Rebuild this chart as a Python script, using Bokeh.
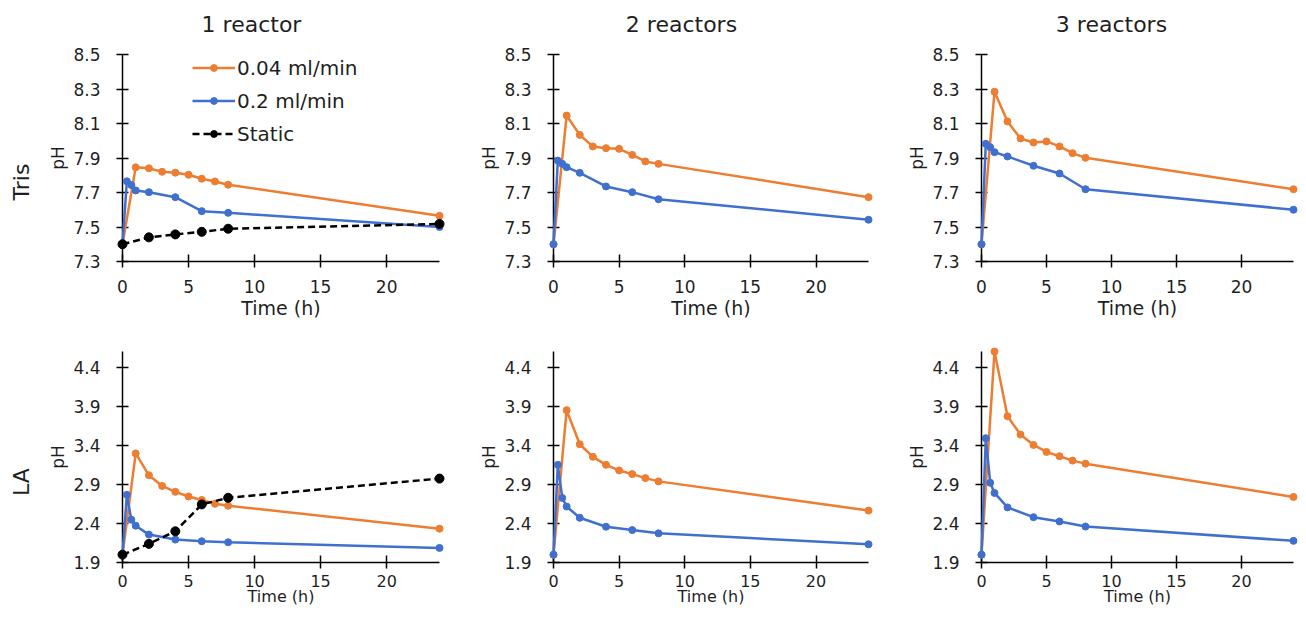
from bokeh.plotting import figure
from bokeh.layouts import row, column
from bokeh.models import Range1d, FixedTicker, PrintfTickFormatter, Legend, LegendItem
from bokeh.embed import file_html
from bokeh.resources import INLINE
from bokeh.core.properties import value
import math

# ------------------------------------------------------------------ data
col_titles = ["1 reactor", "2 reactors", "3 reactors"]
row_labels = ["Tris", "LA"]
series_names = ["0.04 ml/min", "0.2 ml/min", "Static"]

t_orange = [0, 1, 2, 3, 4, 5, 6, 7, 8, 24]
t_blue = [0, 0.33, 0.67, 1, 2, 4, 6, 8, 24]
t_static = [0, 2, 4, 6, 8, 24]

tris1_orange = [7.40, 7.846, 7.840, 7.820, 7.815, 7.803, 7.780, 7.764, 7.745, 7.565]
tris1_blue = [7.40, 7.765, 7.743, 7.712, 7.702, 7.673, 7.592, 7.582, 7.500]
tris1_static = [7.40, 7.440, 7.457, 7.472, 7.490, 7.518]

tris2_orange = [7.40, 8.146, 8.034, 7.967, 7.957, 7.953, 7.918, 7.880, 7.866, 7.673]
tris2_blue = [7.40, 7.885, 7.866, 7.847, 7.814, 7.735, 7.702, 7.661, 7.542]

tris3_orange = [7.40, 8.284, 8.112, 8.013, 7.990, 7.996, 7.967, 7.928, 7.901, 7.719]
tris3_blue = [7.40, 7.982, 7.963, 7.934, 7.909, 7.855, 7.810, 7.719, 7.600]

la1_orange = [2.00, 3.296, 3.016, 2.880, 2.804, 2.745, 2.700, 2.651, 2.626, 2.333]
la1_blue = [2.00, 2.766, 2.448, 2.371, 2.257, 2.193, 2.172, 2.159, 2.087]
la1_static = [2.00, 2.138, 2.299, 2.643, 2.728, 2.974]

la2_orange = [2.00, 3.849, 3.413, 3.252, 3.150, 3.078, 3.031, 2.980, 2.938, 2.565]
la2_blue = [2.00, 3.150, 2.726, 2.616, 2.472, 2.358, 2.315, 2.273, 2.133]

la3_orange = [2.00, 4.600, 3.772, 3.537, 3.404, 3.315, 3.260, 3.204, 3.165, 2.739]
la3_blue = [2.00, 3.490, 2.920, 2.790, 2.605, 2.480, 2.425, 2.360, 2.177]

x_ticks = [0, 5, 10, 15, 20]
tris_y_ticks = [7.3, 7.5, 7.7, 7.9, 8.1, 8.3, 8.5]
la_y_ticks = [1.9, 2.4, 2.9, 3.4, 3.9, 4.4]
x_limits = (0, 24)
tris_limits = (7.3, 8.5)
la_limits = (1.9, 4.6)

# ------------------------------------------------------------------ style / layout
FONT = "DejaVu Sans"
ORANGE = "#ED7D31"
BLUE = "#3F70CF"
BLACK = "#000000"
TEXT = "#1f1f1f"

TOTAL_W = 1298
LAB_W = 44
COLS = [(426, 78, 31), (428, 83, 30), (400, 83, 5)]   # width, border left, border right
HEADER_H = 43
ROWS = [(281, 11, 63), (285, 27, 47)]                 # height, border top, border bottom
TITLE_X = [251, 681, 1111]
TITLE_Y = 19
ROWLAB_X = 21
ROWLAB_Y = [79.5, 80.5]                               # from the frame bottom


def blank_fig(w, h, yr):
    f = figure(width=w, height=h, x_range=Range1d(0, w), y_range=Range1d(0, yr),
               x_axis_type=None, y_axis_type=None, output_backend="svg",
               toolbar_location=None, min_border=0, min_border_left=0,
               min_border_right=0, min_border_top=0, min_border_bottom=0,
               outline_line_color=None, background_fill_color="white",
               border_fill_color="white")
    f.title.text = ""
    f.title.visible = False
    return f


def make_panel(ci, ri, series, y_limits, y_ticks, legend=False):
    w, bl, br = COLS[ci]
    h, bt, bb = ROWS[ri]
    p = figure(width=w, height=h, x_range=Range1d(*x_limits), y_range=Range1d(*y_limits),
               output_backend="svg", toolbar_location=None,
               min_border_left=bl, min_border_right=br, min_border_top=bt,
               min_border_bottom=bb, outline_line_color=None,
               background_fill_color="white", border_fill_color="white")
    p.title.text = ""
    p.title.visible = False
    p.xgrid.visible = False
    p.ygrid.visible = False

    xa = p.xaxis[0]
    xa.ticker = FixedTicker(ticks=x_ticks, minor_ticks=[])
    xa.formatter = PrintfTickFormatter(format="%d")
    xa.axis_line_color = BLACK
    xa.axis_line_width = 1.5
    xa.major_tick_line_color = BLACK
    xa.major_tick_line_width = 1.5
    xa.major_tick_in = 7
    xa.major_tick_out = 6
    xa.minor_tick_in = 0
    xa.minor_tick_out = 0
    xa.major_label_text_font = FONT
    xa.major_label_text_color = TEXT
    xa.axis_label = "Time (h)"
    xa.axis_label_text_font = FONT
    xa.axis_label_text_font_style = "normal"
    xa.axis_label_text_color = TEXT
    if ri == 0:
        xa.major_label_text_font_size = "17px"
        xa.major_label_standoff = 12
        xa.axis_label_standoff = 1
        xa.axis_label_text_font_size = "19px"
    else:
        xa.major_label_text_font_size = "16px"
        xa.major_label_standoff = 6
        xa.axis_label_standoff = -3
        xa.axis_label_text_font_size = "16px"

    ya = p.yaxis[0]
    ya.ticker = FixedTicker(ticks=y_ticks, minor_ticks=[])
    ya.formatter = PrintfTickFormatter(format="%.1f")
    ya.axis_line_color = BLACK
    ya.axis_line_width = 1.5
    ya.major_tick_line_color = BLACK
    ya.major_tick_line_width = 1.5
    ya.major_tick_in = 6
    ya.major_tick_out = 6
    ya.minor_tick_in = 0
    ya.minor_tick_out = 0
    ya.major_label_standoff = 16
    ya.major_label_text_font = FONT
    ya.major_label_text_font_size = "17px"
    ya.major_label_text_color = TEXT
    ya.axis_label = "pH"
    ya.axis_label_text_font = FONT
    ya.axis_label_text_font_size = "17px"
    ya.axis_label_text_font_style = "normal"
    ya.axis_label_text_color = TEXT
    ya.axis_label_standoff = 2

    items = []
    for name, t, y, color, dash, size in series:
        lr = p.line(t, y, line_color=color, line_width=2.5, line_dash=dash, level="overlay")
        sr = p.scatter(t, y, size=size, fill_color=color, line_color=color, level="overlay")
        items.append(LegendItem(label=name, renderers=[lr, sr]))

    if legend:
        lg = Legend(items=items, location=(70, 115.5), orientation="vertical",
                    glyph_width=43, glyph_height=17, label_height=17, label_standoff=2,
                    spacing=9, padding=0, margin=0, border_line_color=None,
                    background_fill_alpha=0, label_text_font=FONT,
                    label_text_font_size="20px", label_text_color=TEXT)
        p.add_layout(lg)
    return p


def ser(name_i, t, y, color, dash="solid", size=7):
    return (series_names[name_i], t, y, color, dash, size)


panels_top = [
    make_panel(0, 0, [ser(0, t_orange, tris1_orange, ORANGE), ser(1, t_blue, tris1_blue, BLUE),
                      ser(2, t_static, tris1_static, BLACK, "7 4", 9)],
               tris_limits, tris_y_ticks, legend=True),
    make_panel(1, 0, [ser(0, t_orange, tris2_orange, ORANGE), ser(1, t_blue, tris2_blue, BLUE)],
               tris_limits, tris_y_ticks),
    make_panel(2, 0, [ser(0, t_orange, tris3_orange, ORANGE), ser(1, t_blue, tris3_blue, BLUE)],
               tris_limits, tris_y_ticks),
]
panels_bot = [
    make_panel(0, 1, [ser(0, t_orange, la1_orange, ORANGE), ser(1, t_blue, la1_blue, BLUE),
                      ser(2, t_static, la1_static, BLACK, "7 4", 9)],
               la_limits, la_y_ticks),
    make_panel(1, 1, [ser(0, t_orange, la2_orange, ORANGE), ser(1, t_blue, la2_blue, BLUE)],
               la_limits, la_y_ticks),
    make_panel(2, 1, [ser(0, t_orange, la3_orange, ORANGE), ser(1, t_blue, la3_blue, BLUE)],
               la_limits, la_y_ticks),
]

header = blank_fig(TOTAL_W, HEADER_H, HEADER_H)
header.text(x=TITLE_X, y=[TITLE_Y] * 3, text=col_titles, text_font=value(FONT),
            text_font_size="22px", text_align="center", text_baseline="alphabetic",
            text_color=TEXT, level="overlay")

row_figs = []
for ri in range(2):
    h, bt, bb = ROWS[ri]
    lf = blank_fig(LAB_W, h, h - bt - bb)
    lf.text(x=[ROWLAB_X], y=[ROWLAB_Y[ri]], text=[row_labels[ri]], angle=math.pi / 2,
            text_font=value(FONT), text_font_size="22px", text_align="center",
            text_baseline="middle", text_color=TEXT, level="overlay")
    row_figs.append(lf)

layout = column(
    header,
    row(row_figs[0], *panels_top, spacing=0),
    row(row_figs[1], *panels_bot, spacing=0),
    spacing=0,
)

open("out.html", "w").write(file_html(layout, INLINE))
